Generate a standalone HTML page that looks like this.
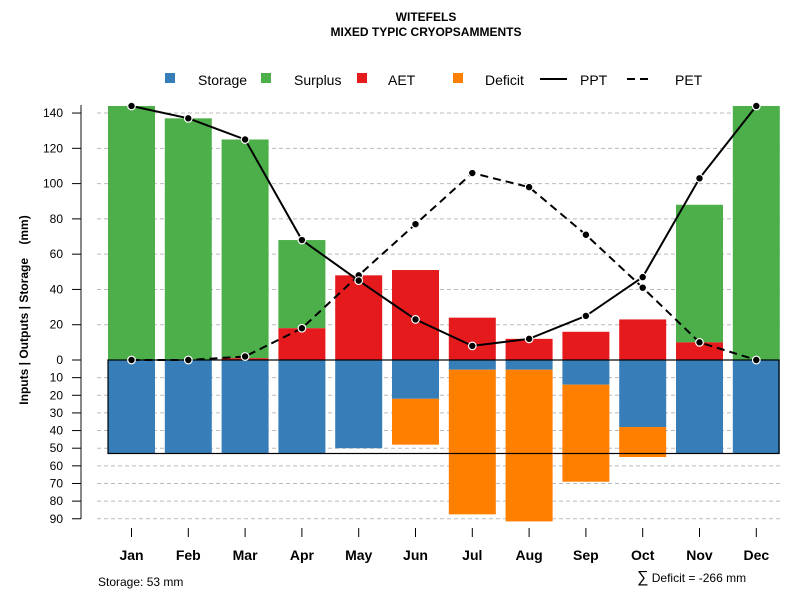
<!DOCTYPE html>
<html><head><meta charset="utf-8"><style>
body{margin:0;background:#fff;}
svg text{font-family:"Liberation Sans",sans-serif;}
</style></head><body>
<svg id="c" width="800" height="600" xmlns="http://www.w3.org/2000/svg">
<text x="426" y="21" text-anchor="middle" font-size="12" font-weight="bold">WITEFELS</text>
<text x="426" y="36" text-anchor="middle" font-size="12" font-weight="bold">MIXED TYPIC CRYOPSAMMENTS</text>
<g font-size="14">
 <g><rect x="165" y="73" width="10" height="10" fill="#377eb8"/><text x="198" y="85">Storage</text></g>
 <g><rect x="261" y="73" width="10" height="10" fill="#4daf4a"/><text x="294" y="85">Surplus</text></g>
 <g><rect x="357" y="73" width="10" height="10" fill="#e41a1c"/><text x="388" y="85">AET</text></g>
 <g><rect x="453" y="73" width="10" height="10" fill="#ff7f00"/><text x="485" y="85">Deficit</text></g>
 <g><line x1="540" y1="79" x2="567" y2="79" stroke="#000" stroke-width="2"/><text x="580" y="85">PPT</text></g>
 <g><line x1="627" y1="79" x2="652" y2="79" stroke="#000" stroke-width="2" stroke-dasharray="8,5"/><text x="675" y="85">PET</text></g>
</g>
<g id="grid"></g><g id="bars"></g><g id="lines"></g><g id="axes"></g>
<text transform="translate(28,310) rotate(-90)" text-anchor="middle" font-size="12" font-weight="bold" style="white-space:pre">Inputs | Outputs | Storage    (mm)</text>
<text x="98" y="586" font-size="12">Storage: 53 mm</text>
<text x="637" y="582" font-size="12"><tspan font-size="16">∑</tspan> Deficit = -266 mm</text>
</svg>
<script>
const months=["Jan","Feb","Mar","Apr","May","Jun","Jul","Aug","Sep","Oct","Nov","Dec"];
const surplusTop=[144,137,125,68,0,0,0,0,0,0,88,144];
const aet=[0,0,1,18,48,51,24,12,16,23,10,0];
const storage=[53,53,53,53,50,22,5.5,5.5,14,38,53,53];
const deficit=[0,0,0,0,0,26,82,86,55,17,0,0];
const ppt=[144,137,125,68,45,23,8,12,25,47,103,144];
const pet=[0,0,2,18,48,77,106,98,71,41,10,0];
const ticksUp=[0,20,40,60,80,100,120,140];
const ticksDown=[10,20,30,40,50,60,70,80,90];
const capacity=53;
const NS="http://www.w3.org/2000/svg";
const y0=360,k=1.764;
const yU=v=>y0-v*k, yD=v=>y0+v*k;
const xC=i=>131.5+i*56.8;
const bw=47;
function mk(t,a,p){const e=document.createElementNS(NS,t);for(const n in a)e.setAttribute(n,a[n]);p.appendChild(e);return e;}
const G=document.getElementById('grid'),B=document.getElementById('bars'),L=document.getElementById('lines'),A=document.getElementById('axes');
ticksUp.concat(ticksDown.map(v=>-v)).forEach(v=>{if(v===0)return;const y=v>0?yU(v):yD(-v);
 const g=mk('line',{x1:97,x2:780,y1:y,y2:y,stroke:'#bbb','stroke-dasharray':'4,3'},G);
 
 });
months.forEach((m,i)=>{const x=xC(i)-bw/2;
 if(surplusTop[i]>aet[i]){const r=mk('rect',{x:x,y:yU(surplusTop[i]),width:bw,height:(surplusTop[i]-aet[i])*k,fill:'#4daf4a'},B);
  
  }
 if(aet[i]>0){const r=mk('rect',{x:x,y:yU(aet[i]),width:bw,height:aet[i]*k,fill:'#e41a1c'},B);
  
  }
 const s=mk('rect',{x:x,y:y0,width:bw,height:storage[i]*k,fill:'#377eb8'},B);
 
 
 if(deficit[i]>0){const r=mk('rect',{x:x,y:yD(storage[i]),width:bw,height:deficit[i]*k,fill:'#ff7f00'},B);
  
  }
});
const box=mk('rect',{x:108,y:y0,width:671,height:capacity*k,fill:'none',stroke:'#000','stroke-width':1.2},B);


function series(vals,dash,name){const pts=vals.map((v,i)=>xC(i)+','+yU(v)).join(' ');
 const pl=mk('polyline',{points:pts,fill:'none',stroke:'#000','stroke-width':2,'stroke-dasharray':dash},L);
 
 
 vals.forEach((v,i)=>{const c=mk('circle',{cx:xC(i),cy:yU(v),r:3.8,fill:'#000',stroke:'#fff','stroke-width':1.2},L);
  
  });}
series(pet,'8,5','pet');series(ppt,'none','ppt');
const ax=mk('line',{x1:81,x2:81,y1:105,y2:519,stroke:'#888','stroke-width':2},A);


ticksUp.forEach(v=>{mk('line',{x1:72,x2:81,y1:yU(v),y2:yU(v),stroke:'#000'},A);
 const t=mk('text',{x:63,y:yU(v)+4,'text-anchor':'end','font-size':12},A);t.textContent=v;
 
 });
ticksDown.forEach(v=>{mk('line',{x1:72,x2:81,y1:yD(v),y2:yD(v),stroke:'#000'},A);
 const t=mk('text',{x:63,y:yD(v)+4,'text-anchor':'end','font-size':12},A);t.textContent=v;
 
 });
months.forEach((m,i)=>{mk('line',{x1:xC(i),x2:xC(i),y1:528,y2:537,stroke:'#000'},A);
 const t=mk('text',{x:xC(i),y:560,'text-anchor':'middle','font-size':14,'font-weight':'bold'},A);t.textContent=m;
 
 });
</script>
</body></html>
